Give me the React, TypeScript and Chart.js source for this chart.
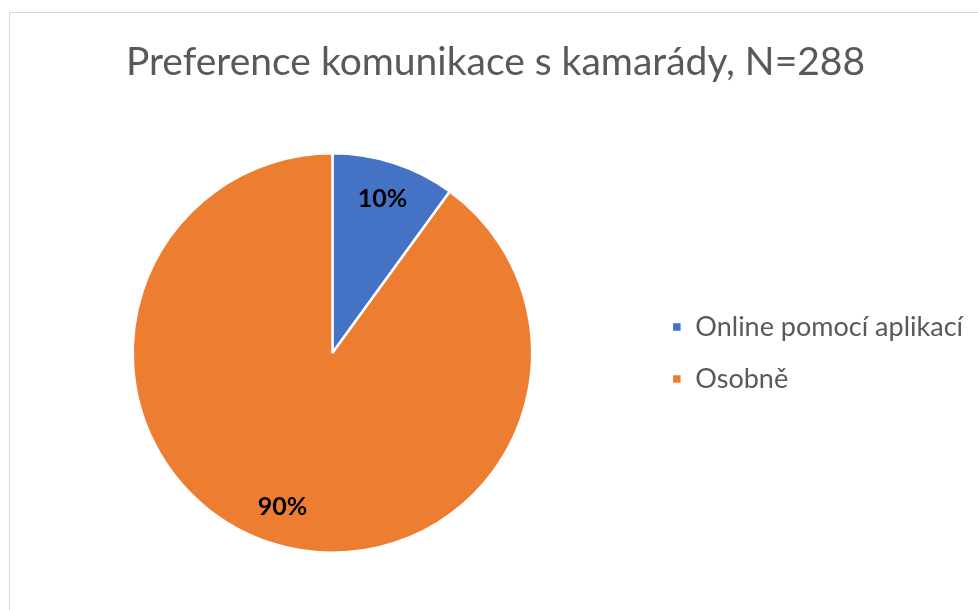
import React, { useEffect, useRef } from "react";
import { Chart, registerables } from "chart.js";

Chart.register(...registerables);

const TITLE = "Preference komunikace s kamarády, N=288";
const categories = ["Online pomocí aplikací", "Osobně"];
const values = [10, 90];
const valueLabels = ["10%", "90%"];
const colors = ["#4472C4", "#ED7D31"];

const FONT = "Lato, 'Open Sans', sans-serif";

const sliceLabels = {
  id: "sliceLabels",
  afterDatasetsDraw(chart: any) {
    const ctx = chart.ctx;
    const meta = chart.getDatasetMeta(0);
    ctx.save();
    ctx.font = `bold 25px ${FONT}`;
    ctx.fillStyle = "#000000";
    ctx.textAlign = "center";
    ctx.textBaseline = "middle";
    meta.data.forEach((arc: any, i: number) => {
      const p = arc.getProps(["x", "y", "startAngle", "endAngle", "outerRadius"], true);
      const mid = (p.startAngle + p.endAngle) / 2;
      const r = p.outerRadius * 0.81;
      ctx.fillText(valueLabels[i], p.x + Math.cos(mid) * r, p.y + Math.sin(mid) * r);
    });
    ctx.restore();
  },
};

export default function App() {
  const ref = useRef<HTMLCanvasElement | null>(null);
  useEffect(() => {
    if (!ref.current) return;
    const chart = new Chart(ref.current, {
      type: "pie",
      data: {
        labels: categories,
        datasets: [
          {
            data: values,
            backgroundColor: colors,
            borderColor: "#ffffff",
            borderWidth: 2.5,
          },
        ],
      },
      options: {
        responsive: false,
        animation: false,
        layout: { padding: { left: 8, right: 21, top: 0, bottom: 56 } },
        plugins: {
          title: {
            display: true,
            text: TITLE,
            color: "#595959",
            font: { family: FONT, size: 39, weight: "normal" },
            padding: { top: 25.6, bottom: 66.6 },
          },
          legend: {
            position: "right",
            fullSize: false,
            labels: {
              boxWidth: 10,
              boxHeight: 10,
              padding: 25,
              color: "#595959",
              font: { family: FONT, size: 27 },
            },
          },
          tooltip: { enabled: false },
        },
      },
      plugins: [sliceLabels],
    });
    return () => chart.destroy();
  }, []);

  return (
    <div style={{ position: "fixed", inset: 0, overflow: "hidden", background: "#ffffff" }}>
      <div
        style={{
          position: "absolute",
          left: 9,
          top: 12,
          width: 990,
          height: 620,
          border: "1px solid #d9d9d9",
          boxSizing: "border-box",
        }}
      >
        <canvas ref={ref} width={984} height={597} style={{ display: "block", width: 984, height: 597 }} />
      </div>
    </div>
  );
}
